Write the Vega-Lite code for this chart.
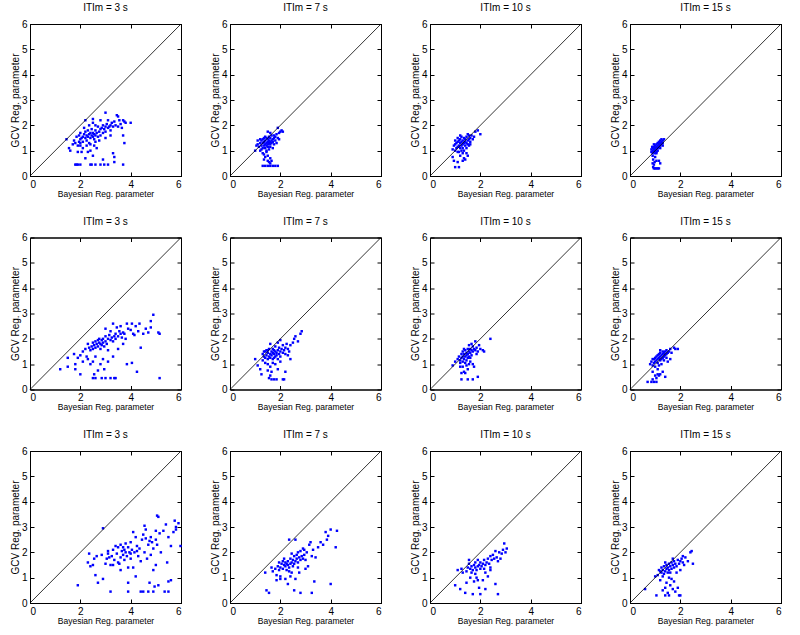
{
"$schema": "https://vega.github.io/schema/vega-lite/v6.json",
"padding": {"left": 9, "top": 2, "right": 5, "bottom": 5},
"data": {"values": [
{"panel":"1_3","x":1.45,"y":1.45},{"panel":"1_3","x":1.55,"y":1.1},{"panel":"1_3","x":1.6,"y":1.0},{"panel":"1_3","x":1.7,"y":1.25},{"panel":"1_3","x":1.75,"y":1.4},{"panel":"1_3","x":1.8,"y":1.3},{"panel":"1_3","x":1.85,"y":1.55},{"panel":"1_3","x":1.9,"y":1.2},{"panel":"1_3","x":1.95,"y":1.6},{"panel":"1_3","x":2.0,"y":1.45},{"panel":"1_3","x":2.0,"y":1.7},{"panel":"1_3","x":2.05,"y":1.5},{"panel":"1_3","x":2.1,"y":1.55},{"panel":"1_3","x":2.1,"y":1.35},{"panel":"1_3","x":2.15,"y":1.65},{"panel":"1_3","x":2.15,"y":1.9},{"panel":"1_3","x":2.2,"y":1.5},{"panel":"1_3","x":2.2,"y":1.75},{"panel":"1_3","x":2.25,"y":1.6},{"panel":"1_3","x":2.25,"y":1.4},{"panel":"1_3","x":2.3,"y":1.55},{"panel":"1_3","x":2.3,"y":1.8},{"panel":"1_3","x":2.35,"y":1.65},{"panel":"1_3","x":2.35,"y":2.0},{"panel":"1_3","x":2.4,"y":1.5},{"panel":"1_3","x":2.4,"y":1.7},{"panel":"1_3","x":2.4,"y":1.25},{"panel":"1_3","x":2.45,"y":1.6},{"panel":"1_3","x":2.45,"y":1.85},{"panel":"1_3","x":2.5,"y":1.55},{"panel":"1_3","x":2.5,"y":1.7},{"panel":"1_3","x":2.5,"y":2.1},{"panel":"1_3","x":2.55,"y":1.45},{"panel":"1_3","x":2.55,"y":1.65},{"panel":"1_3","x":2.6,"y":1.6},{"panel":"1_3","x":2.6,"y":1.8},{"panel":"1_3","x":2.6,"y":1.35},{"panel":"1_3","x":2.65,"y":1.7},{"panel":"1_3","x":2.7,"y":1.55},{"panel":"1_3","x":2.7,"y":1.95},{"panel":"1_3","x":2.75,"y":1.75},{"panel":"1_3","x":2.8,"y":1.6},{"panel":"1_3","x":2.8,"y":1.85},{"panel":"1_3","x":2.8,"y":2.2},{"panel":"1_3","x":2.85,"y":1.9},{"panel":"1_3","x":2.9,"y":1.7},{"panel":"1_3","x":2.9,"y":2.0},{"panel":"1_3","x":2.95,"y":1.85},{"panel":"1_3","x":3.0,"y":1.95},{"panel":"1_3","x":3.0,"y":2.5},{"panel":"1_3","x":3.0,"y":1.75},{"panel":"1_3","x":3.05,"y":2.05},{"panel":"1_3","x":3.1,"y":1.9},{"panel":"1_3","x":3.1,"y":2.2},{"panel":"1_3","x":3.15,"y":1.95},{"panel":"1_3","x":3.2,"y":2.0},{"panel":"1_3","x":3.2,"y":1.8},{"panel":"1_3","x":3.25,"y":2.1},{"panel":"1_3","x":3.3,"y":1.95},{"panel":"1_3","x":3.35,"y":2.15},{"panel":"1_3","x":3.4,"y":2.0},{"panel":"1_3","x":3.45,"y":2.4},{"panel":"1_3","x":3.5,"y":2.35},{"panel":"1_3","x":3.5,"y":1.95},{"panel":"1_3","x":3.55,"y":2.2},{"panel":"1_3","x":3.6,"y":2.05},{"panel":"1_3","x":3.65,"y":1.9},{"panel":"1_3","x":3.7,"y":2.2},{"panel":"1_3","x":3.75,"y":2.15},{"panel":"1_3","x":3.8,"y":2.1},{"panel":"1_3","x":3.75,"y":1.3},{"panel":"1_3","x":3.7,"y":1.6},{"panel":"1_3","x":4.0,"y":2.1},{"panel":"1_3","x":2.2,"y":2.2},{"panel":"1_3","x":2.5,"y":2.25},{"panel":"1_3","x":2.35,"y":1.3},{"panel":"1_3","x":2.6,"y":2.0},{"panel":"1_3","x":2.65,"y":1.1},{"panel":"1_3","x":2.0,"y":1.2},{"panel":"1_3","x":1.9,"y":0.95},{"panel":"1_3","x":2.05,"y":0.95},{"panel":"1_3","x":2.3,"y":0.95},{"panel":"1_3","x":2.2,"y":0.7},{"panel":"1_3","x":2.5,"y":0.8},{"panel":"1_3","x":2.4,"y":1.0},{"panel":"1_3","x":2.1,"y":1.1},{"panel":"1_3","x":3.3,"y":0.9},{"panel":"1_3","x":3.35,"y":0.75},{"panel":"1_3","x":3.35,"y":0.55},{"panel":"1_3","x":2.9,"y":0.65},{"panel":"1_3","x":1.8,"y":0.45},{"panel":"1_3","x":1.85,"y":0.45},{"panel":"1_3","x":1.9,"y":0.45},{"panel":"1_3","x":2.0,"y":0.45},{"panel":"1_3","x":2.4,"y":0.45},{"panel":"1_3","x":2.45,"y":0.45},{"panel":"1_3","x":2.6,"y":0.45},{"panel":"1_3","x":2.8,"y":0.45},{"panel":"1_3","x":2.95,"y":0.45},{"panel":"1_3","x":3.1,"y":0.45},{"panel":"1_3","x":3.7,"y":0.45},{"panel":"1_3","x":2.55,"y":1.2},{"panel":"1_3","x":2.75,"y":1.4},{"panel":"1_3","x":3.0,"y":1.5},{"panel":"1_3","x":3.2,"y":1.6},{"panel":"1_3","x":2.0,"y":1.3},{"panel":"1_3","x":1.95,"y":1.35},{"panel":"1_3","x":2.25,"y":1.2},
{"panel":"1_7","x":1.0,"y":1.0},{"panel":"1_7","x":1.05,"y":1.2},{"panel":"1_7","x":1.1,"y":1.25},{"panel":"1_7","x":1.15,"y":1.15},{"panel":"1_7","x":1.2,"y":1.3},{"panel":"1_7","x":1.2,"y":1.0},{"panel":"1_7","x":1.25,"y":1.2},{"panel":"1_7","x":1.25,"y":1.4},{"panel":"1_7","x":1.3,"y":1.3},{"panel":"1_7","x":1.3,"y":1.1},{"panel":"1_7","x":1.3,"y":1.45},{"panel":"1_7","x":1.35,"y":1.2},{"panel":"1_7","x":1.35,"y":1.35},{"panel":"1_7","x":1.4,"y":1.25},{"panel":"1_7","x":1.4,"y":1.4},{"panel":"1_7","x":1.4,"y":1.1},{"panel":"1_7","x":1.45,"y":1.3},{"panel":"1_7","x":1.45,"y":1.5},{"panel":"1_7","x":1.45,"y":1.2},{"panel":"1_7","x":1.5,"y":1.35},{"panel":"1_7","x":1.5,"y":1.25},{"panel":"1_7","x":1.5,"y":1.45},{"panel":"1_7","x":1.5,"y":1.15},{"panel":"1_7","x":1.55,"y":1.3},{"panel":"1_7","x":1.55,"y":1.4},{"panel":"1_7","x":1.55,"y":1.55},{"panel":"1_7","x":1.6,"y":1.35},{"panel":"1_7","x":1.6,"y":1.25},{"panel":"1_7","x":1.6,"y":1.5},{"panel":"1_7","x":1.65,"y":1.4},{"panel":"1_7","x":1.65,"y":1.3},{"panel":"1_7","x":1.65,"y":1.6},{"panel":"1_7","x":1.7,"y":1.45},{"panel":"1_7","x":1.7,"y":1.35},{"panel":"1_7","x":1.75,"y":1.5},{"panel":"1_7","x":1.75,"y":1.25},{"panel":"1_7","x":1.8,"y":1.55},{"panel":"1_7","x":1.8,"y":1.4},{"panel":"1_7","x":1.85,"y":1.65},{"panel":"1_7","x":1.9,"y":1.5},{"panel":"1_7","x":1.9,"y":1.9},{"panel":"1_7","x":1.95,"y":1.7},{"panel":"1_7","x":2.0,"y":1.75},{"panel":"1_7","x":2.05,"y":1.8},{"panel":"1_7","x":2.1,"y":1.75},{"panel":"1_7","x":1.6,"y":1.7},{"panel":"1_7","x":1.5,"y":1.75},{"panel":"1_7","x":1.35,"y":1.5},{"panel":"1_7","x":1.25,"y":1.05},{"panel":"1_7","x":1.3,"y":0.9},{"panel":"1_7","x":1.35,"y":0.85},{"panel":"1_7","x":1.4,"y":0.75},{"panel":"1_7","x":1.35,"y":0.65},{"panel":"1_7","x":1.45,"y":0.95},{"panel":"1_7","x":1.5,"y":0.8},{"panel":"1_7","x":1.5,"y":0.6},{"panel":"1_7","x":1.55,"y":0.55},{"panel":"1_7","x":1.6,"y":0.5},{"panel":"1_7","x":1.6,"y":0.7},{"panel":"1_7","x":1.65,"y":0.6},{"panel":"1_7","x":1.3,"y":0.4},{"panel":"1_7","x":1.4,"y":0.4},{"panel":"1_7","x":1.5,"y":0.4},{"panel":"1_7","x":1.6,"y":0.4},{"panel":"1_7","x":1.7,"y":0.4},{"panel":"1_7","x":1.8,"y":0.4},{"panel":"1_7","x":1.9,"y":0.4},{"panel":"1_7","x":1.55,"y":1.05},{"panel":"1_7","x":1.45,"y":1.0},{"panel":"1_7","x":1.7,"y":1.1},{"panel":"1_7","x":1.1,"y":1.4},{"panel":"1_7","x":1.2,"y":1.45},{"panel":"1_7","x":1.6,"y":1.15},{"panel":"1_7","x":1.4,"y":1.55},{"panel":"1_7","x":1.75,"y":1.6},{"panel":"1_7","x":1.85,"y":1.3},{"panel":"1_7","x":1.95,"y":1.45},
{"panel":"1_10","x":0.9,"y":0.75},{"panel":"1_10","x":0.95,"y":0.6},{"panel":"1_10","x":0.9,"y":1.05},{"panel":"1_10","x":0.95,"y":1.2},{"panel":"1_10","x":1.0,"y":1.0},{"panel":"1_10","x":1.0,"y":1.25},{"panel":"1_10","x":1.05,"y":1.1},{"panel":"1_10","x":1.05,"y":1.3},{"panel":"1_10","x":1.1,"y":1.15},{"panel":"1_10","x":1.1,"y":1.35},{"panel":"1_10","x":1.1,"y":0.95},{"panel":"1_10","x":1.15,"y":1.2},{"panel":"1_10","x":1.15,"y":1.4},{"panel":"1_10","x":1.2,"y":1.1},{"panel":"1_10","x":1.2,"y":1.3},{"panel":"1_10","x":1.2,"y":1.45},{"panel":"1_10","x":1.25,"y":1.2},{"panel":"1_10","x":1.25,"y":1.35},{"panel":"1_10","x":1.25,"y":1.0},{"panel":"1_10","x":1.3,"y":1.25},{"panel":"1_10","x":1.3,"y":1.4},{"panel":"1_10","x":1.3,"y":1.1},{"panel":"1_10","x":1.35,"y":1.3},{"panel":"1_10","x":1.35,"y":1.5},{"panel":"1_10","x":1.4,"y":1.2},{"panel":"1_10","x":1.4,"y":1.35},{"panel":"1_10","x":1.4,"y":1.45},{"panel":"1_10","x":1.45,"y":1.3},{"panel":"1_10","x":1.45,"y":1.55},{"panel":"1_10","x":1.5,"y":1.4},{"panel":"1_10","x":1.5,"y":1.25},{"panel":"1_10","x":1.55,"y":1.45},{"panel":"1_10","x":1.55,"y":1.6},{"panel":"1_10","x":1.6,"y":1.35},{"panel":"1_10","x":1.6,"y":1.5},{"panel":"1_10","x":1.65,"y":1.6},{"panel":"1_10","x":1.7,"y":1.45},{"panel":"1_10","x":1.75,"y":1.55},{"panel":"1_10","x":1.8,"y":1.75},{"panel":"1_10","x":1.9,"y":1.8},{"panel":"1_10","x":2.0,"y":1.65},{"panel":"1_10","x":1.0,"y":0.35},{"panel":"1_10","x":1.15,"y":0.35},{"panel":"1_10","x":1.1,"y":0.55},{"panel":"1_10","x":1.2,"y":0.8},{"panel":"1_10","x":1.3,"y":0.6},{"panel":"1_10","x":1.35,"y":0.7},{"panel":"1_10","x":1.4,"y":0.65},{"panel":"1_10","x":1.45,"y":0.9},{"panel":"1_10","x":1.5,"y":0.8},{"panel":"1_10","x":1.3,"y":0.9},{"panel":"1_10","x":1.15,"y":0.95},{"panel":"1_10","x":1.35,"y":1.0},{"panel":"1_10","x":1.25,"y":1.55},{"panel":"1_10","x":1.45,"y":1.1},{"panel":"1_10","x":1.55,"y":1.2},{"panel":"1_10","x":1.1,"y":1.5},{"panel":"1_10","x":1.0,"y":1.4},{"panel":"1_10","x":1.2,"y":1.6},{"panel":"1_10","x":1.5,"y":1.65},{"panel":"1_10","x":1.6,"y":1.25},
{"panel":"1_15","x":0.85,"y":0.95},{"panel":"1_15","x":0.85,"y":1.05},{"panel":"1_15","x":0.9,"y":0.9},{"panel":"1_15","x":0.9,"y":1.0},{"panel":"1_15","x":0.9,"y":1.1},{"panel":"1_15","x":0.95,"y":0.95},{"panel":"1_15","x":0.95,"y":1.05},{"panel":"1_15","x":0.95,"y":1.15},{"panel":"1_15","x":1.0,"y":1.0},{"panel":"1_15","x":1.0,"y":1.1},{"panel":"1_15","x":1.0,"y":1.2},{"panel":"1_15","x":1.0,"y":0.9},{"panel":"1_15","x":1.05,"y":1.05},{"panel":"1_15","x":1.05,"y":1.15},{"panel":"1_15","x":1.05,"y":1.25},{"panel":"1_15","x":1.1,"y":1.1},{"panel":"1_15","x":1.1,"y":1.2},{"panel":"1_15","x":1.1,"y":1.0},{"panel":"1_15","x":1.1,"y":1.3},{"panel":"1_15","x":1.15,"y":1.15},{"panel":"1_15","x":1.15,"y":1.25},{"panel":"1_15","x":1.15,"y":1.35},{"panel":"1_15","x":1.2,"y":1.2},{"panel":"1_15","x":1.2,"y":1.3},{"panel":"1_15","x":1.2,"y":1.1},{"panel":"1_15","x":1.25,"y":1.25},{"panel":"1_15","x":1.25,"y":1.35},{"panel":"1_15","x":1.25,"y":1.45},{"panel":"1_15","x":1.3,"y":1.3},{"panel":"1_15","x":1.3,"y":1.4},{"panel":"1_15","x":1.35,"y":1.45},{"panel":"1_15","x":1.3,"y":1.2},{"panel":"1_15","x":0.9,"y":0.8},{"panel":"1_15","x":0.92,"y":0.65},{"panel":"1_15","x":0.9,"y":0.5},{"panel":"1_15","x":0.95,"y":0.45},{"panel":"1_15","x":0.92,"y":0.35},{"panel":"1_15","x":0.95,"y":0.3},{"panel":"1_15","x":1.0,"y":0.3},{"panel":"1_15","x":1.05,"y":0.3},{"panel":"1_15","x":1.1,"y":0.3},{"panel":"1_15","x":1.15,"y":0.3},{"panel":"1_15","x":1.2,"y":0.5},{"panel":"1_15","x":1.15,"y":0.6},{"panel":"1_15","x":1.05,"y":0.6},{"panel":"1_15","x":1.0,"y":0.75},{"panel":"1_15","x":0.98,"y":0.55},{"panel":"1_15","x":1.05,"y":0.9},{"panel":"1_15","x":0.95,"y":1.25},{"panel":"1_15","x":1.05,"y":0.95},{"panel":"1_15","x":1.2,"y":1.4},{"panel":"1_15","x":0.88,"y":1.15},
{"panel":"2_3","x":1.2,"y":0.8},{"panel":"2_3","x":1.5,"y":1.25},{"panel":"2_3","x":1.5,"y":0.9},{"panel":"2_3","x":1.75,"y":1.4},{"panel":"2_3","x":1.8,"y":1.0},{"panel":"2_3","x":1.8,"y":0.8},{"panel":"2_3","x":2.0,"y":0.6},{"panel":"2_3","x":1.9,"y":1.25},{"panel":"2_3","x":2.1,"y":1.5},{"panel":"2_3","x":2.1,"y":1.1},{"panel":"2_3","x":2.2,"y":1.6},{"panel":"2_3","x":2.25,"y":1.3},{"panel":"2_3","x":2.3,"y":1.8},{"panel":"2_3","x":2.35,"y":1.65},{"panel":"2_3","x":2.4,"y":1.55},{"panel":"2_3","x":2.45,"y":1.7},{"panel":"2_3","x":2.5,"y":1.85},{"panel":"2_3","x":2.5,"y":1.6},{"panel":"2_3","x":2.55,"y":1.75},{"panel":"2_3","x":2.6,"y":1.9},{"panel":"2_3","x":2.6,"y":1.65},{"panel":"2_3","x":2.65,"y":1.8},{"panel":"2_3","x":2.7,"y":1.95},{"panel":"2_3","x":2.7,"y":1.7},{"panel":"2_3","x":2.75,"y":1.85},{"panel":"2_3","x":2.75,"y":2.0},{"panel":"2_3","x":2.8,"y":1.8},{"panel":"2_3","x":2.8,"y":1.6},{"panel":"2_3","x":2.85,"y":1.95},{"panel":"2_3","x":2.85,"y":1.75},{"panel":"2_3","x":2.9,"y":2.0},{"panel":"2_3","x":2.9,"y":1.85},{"panel":"2_3","x":2.95,"y":1.7},{"panel":"2_3","x":3.0,"y":1.9},{"panel":"2_3","x":3.0,"y":2.1},{"panel":"2_3","x":3.05,"y":1.8},{"panel":"2_3","x":3.1,"y":2.0},{"panel":"2_3","x":3.1,"y":1.55},{"panel":"2_3","x":3.15,"y":2.15},{"panel":"2_3","x":3.2,"y":1.95},{"panel":"2_3","x":3.2,"y":2.3},{"panel":"2_3","x":3.25,"y":2.05},{"panel":"2_3","x":3.3,"y":1.9},{"panel":"2_3","x":3.35,"y":2.1},{"panel":"2_3","x":3.4,"y":2.2},{"panel":"2_3","x":3.4,"y":2.0},{"panel":"2_3","x":3.45,"y":2.45},{"panel":"2_3","x":3.5,"y":2.1},{"panel":"2_3","x":3.55,"y":2.3},{"panel":"2_3","x":3.6,"y":2.2},{"panel":"2_3","x":3.65,"y":2.05},{"panel":"2_3","x":3.7,"y":2.25},{"panel":"2_3","x":3.75,"y":2.2},{"panel":"2_3","x":3.8,"y":2.0},{"panel":"2_3","x":3.85,"y":2.6},{"panel":"2_3","x":3.9,"y":2.4},{"panel":"2_3","x":4.0,"y":2.35},{"panel":"2_3","x":4.05,"y":2.6},{"panel":"2_3","x":4.15,"y":2.15},{"panel":"2_3","x":4.2,"y":2.5},{"panel":"2_3","x":4.3,"y":2.3},{"panel":"2_3","x":4.35,"y":2.6},{"panel":"2_3","x":4.4,"y":1.65},{"panel":"2_3","x":4.5,"y":2.2},{"panel":"2_3","x":4.6,"y":2.4},{"panel":"2_3","x":4.7,"y":2.25},{"panel":"2_3","x":4.8,"y":2.7},{"panel":"2_3","x":4.8,"y":2.45},{"panel":"2_3","x":4.9,"y":2.95},{"panel":"2_3","x":5.1,"y":2.25},{"panel":"2_3","x":5.15,"y":2.2},{"panel":"2_3","x":5.15,"y":0.45},{"panel":"2_3","x":4.25,"y":0.7},{"panel":"2_3","x":4.05,"y":1.05},{"panel":"2_3","x":3.85,"y":1.0},{"panel":"2_3","x":2.5,"y":0.45},{"panel":"2_3","x":2.6,"y":0.45},{"panel":"2_3","x":2.85,"y":0.45},{"panel":"2_3","x":3.0,"y":0.45},{"panel":"2_3","x":3.2,"y":0.45},{"panel":"2_3","x":3.4,"y":0.45},{"panel":"2_3","x":3.35,"y":0.45},{"panel":"2_3","x":2.55,"y":0.6},{"panel":"2_3","x":2.7,"y":0.75},{"panel":"2_3","x":2.8,"y":1.0},{"panel":"2_3","x":2.9,"y":1.2},{"panel":"2_3","x":2.6,"y":1.3},{"panel":"2_3","x":2.5,"y":1.1},{"panel":"2_3","x":3.1,"y":1.1},{"panel":"2_3","x":2.4,"y":1.0},{"panel":"2_3","x":2.95,"y":0.8},{"panel":"2_3","x":3.3,"y":1.3},{"panel":"2_3","x":3.5,"y":1.6},{"panel":"2_3","x":3.7,"y":1.8},{"panel":"2_3","x":2.3,"y":1.2},{"panel":"2_3","x":2.0,"y":1.35},{"panel":"2_3","x":3.6,"y":2.5},{"panel":"2_3","x":3.0,"y":2.4},{"panel":"2_3","x":3.3,"y":2.6},{"panel":"2_3","x":4.1,"y":2.2},
{"panel":"2_7","x":1.0,"y":1.2},{"panel":"2_7","x":1.1,"y":0.95},{"panel":"2_7","x":1.2,"y":0.8},{"panel":"2_7","x":1.25,"y":0.6},{"panel":"2_7","x":1.3,"y":1.4},{"panel":"2_7","x":1.3,"y":1.15},{"panel":"2_7","x":1.35,"y":1.3},{"panel":"2_7","x":1.4,"y":1.5},{"panel":"2_7","x":1.4,"y":1.25},{"panel":"2_7","x":1.45,"y":1.35},{"panel":"2_7","x":1.45,"y":1.55},{"panel":"2_7","x":1.5,"y":1.2},{"panel":"2_7","x":1.5,"y":1.45},{"panel":"2_7","x":1.5,"y":1.0},{"panel":"2_7","x":1.55,"y":1.3},{"panel":"2_7","x":1.55,"y":1.6},{"panel":"2_7","x":1.6,"y":1.4},{"panel":"2_7","x":1.6,"y":1.25},{"panel":"2_7","x":1.6,"y":0.9},{"panel":"2_7","x":1.65,"y":1.5},{"panel":"2_7","x":1.65,"y":1.35},{"panel":"2_7","x":1.7,"y":1.45},{"panel":"2_7","x":1.7,"y":1.2},{"panel":"2_7","x":1.7,"y":1.6},{"panel":"2_7","x":1.75,"y":1.4},{"panel":"2_7","x":1.75,"y":1.55},{"panel":"2_7","x":1.8,"y":1.3},{"panel":"2_7","x":1.8,"y":1.5},{"panel":"2_7","x":1.8,"y":1.7},{"panel":"2_7","x":1.85,"y":1.45},{"panel":"2_7","x":1.85,"y":1.35},{"panel":"2_7","x":1.9,"y":1.55},{"panel":"2_7","x":1.9,"y":1.2},{"panel":"2_7","x":1.95,"y":1.4},{"panel":"2_7","x":1.95,"y":1.65},{"panel":"2_7","x":2.0,"y":1.5},{"panel":"2_7","x":2.0,"y":1.3},{"panel":"2_7","x":2.05,"y":1.6},{"panel":"2_7","x":2.1,"y":1.45},{"panel":"2_7","x":2.1,"y":1.75},{"panel":"2_7","x":2.15,"y":1.55},{"panel":"2_7","x":2.2,"y":1.65},{"panel":"2_7","x":2.2,"y":1.4},{"panel":"2_7","x":2.25,"y":1.8},{"panel":"2_7","x":2.3,"y":1.6},{"panel":"2_7","x":2.35,"y":1.5},{"panel":"2_7","x":2.4,"y":1.75},{"panel":"2_7","x":2.5,"y":1.85},{"panel":"2_7","x":2.55,"y":2.0},{"panel":"2_7","x":2.6,"y":2.1},{"panel":"2_7","x":2.7,"y":1.9},{"panel":"2_7","x":2.8,"y":2.2},{"panel":"2_7","x":2.85,"y":2.3},{"panel":"2_7","x":2.4,"y":1.2},{"panel":"2_7","x":1.5,"y":0.75},{"panel":"2_7","x":1.6,"y":0.55},{"panel":"2_7","x":1.55,"y":0.45},{"panel":"2_7","x":1.75,"y":0.4},{"panel":"2_7","x":1.85,"y":0.4},{"panel":"2_7","x":1.65,"y":0.4},{"panel":"2_7","x":2.1,"y":0.4},{"panel":"2_7","x":2.15,"y":0.4},{"panel":"2_7","x":2.2,"y":0.7},{"panel":"2_7","x":1.9,"y":0.8},{"panel":"2_7","x":1.8,"y":1.0},{"panel":"2_7","x":1.7,"y":1.05},{"panel":"2_7","x":2.0,"y":1.1},{"panel":"2_7","x":1.4,"y":1.05},{"panel":"2_7","x":1.65,"y":0.7},{"panel":"2_7","x":1.35,"y":1.5},{"panel":"2_7","x":1.6,"y":1.8},{"panel":"2_7","x":1.9,"y":1.85},{"panel":"2_7","x":2.0,"y":1.95},{"panel":"2_7","x":1.5,"y":1.55},{"panel":"2_7","x":1.75,"y":1.25},{"panel":"2_7","x":2.3,"y":1.35},
{"panel":"2_10","x":0.9,"y":0.95},{"panel":"2_10","x":1.1,"y":1.2},{"panel":"2_10","x":1.15,"y":1.3},{"panel":"2_10","x":1.2,"y":1.15},{"panel":"2_10","x":1.2,"y":0.9},{"panel":"2_10","x":1.25,"y":1.25},{"panel":"2_10","x":1.25,"y":1.4},{"panel":"2_10","x":1.3,"y":1.1},{"panel":"2_10","x":1.3,"y":1.3},{"panel":"2_10","x":1.3,"y":1.5},{"panel":"2_10","x":1.35,"y":1.2},{"panel":"2_10","x":1.35,"y":1.4},{"panel":"2_10","x":1.4,"y":1.3},{"panel":"2_10","x":1.4,"y":1.55},{"panel":"2_10","x":1.4,"y":1.05},{"panel":"2_10","x":1.45,"y":1.35},{"panel":"2_10","x":1.45,"y":1.45},{"panel":"2_10","x":1.5,"y":1.25},{"panel":"2_10","x":1.5,"y":1.4},{"panel":"2_10","x":1.5,"y":1.6},{"panel":"2_10","x":1.55,"y":1.5},{"panel":"2_10","x":1.55,"y":1.3},{"panel":"2_10","x":1.6,"y":1.45},{"panel":"2_10","x":1.6,"y":1.6},{"panel":"2_10","x":1.65,"y":1.55},{"panel":"2_10","x":1.65,"y":1.35},{"panel":"2_10","x":1.7,"y":1.5},{"panel":"2_10","x":1.7,"y":1.7},{"panel":"2_10","x":1.75,"y":1.6},{"panel":"2_10","x":1.8,"y":1.55},{"panel":"2_10","x":1.8,"y":1.9},{"panel":"2_10","x":1.85,"y":1.65},{"panel":"2_10","x":1.9,"y":1.5},{"panel":"2_10","x":1.95,"y":1.75},{"panel":"2_10","x":2.0,"y":1.6},{"panel":"2_10","x":2.1,"y":1.55},{"panel":"2_10","x":2.15,"y":1.5},{"panel":"2_10","x":2.4,"y":2.0},{"panel":"2_10","x":1.25,"y":0.65},{"panel":"2_10","x":1.3,"y":0.9},{"panel":"2_10","x":1.35,"y":0.7},{"panel":"2_10","x":1.4,"y":0.65},{"panel":"2_10","x":1.45,"y":0.95},{"panel":"2_10","x":1.5,"y":0.8},{"panel":"2_10","x":1.55,"y":1.0},{"panel":"2_10","x":1.6,"y":1.1},{"panel":"2_10","x":1.7,"y":1.0},{"panel":"2_10","x":1.75,"y":0.9},{"panel":"2_10","x":1.9,"y":0.5},{"panel":"2_10","x":1.25,"y":0.4},{"panel":"2_10","x":1.5,"y":0.4},{"panel":"2_10","x":1.7,"y":0.4},{"panel":"2_10","x":1.35,"y":1.6},{"panel":"2_10","x":1.2,"y":1.05},{"panel":"2_10","x":1.45,"y":1.15},{"panel":"2_10","x":1.6,"y":1.25},{"panel":"2_10","x":1.85,"y":1.4},{"panel":"2_10","x":1.0,"y":1.1},{"panel":"2_10","x":1.55,"y":1.75},{"panel":"2_10","x":1.65,"y":1.8},
{"panel":"2_15","x":0.8,"y":1.0},{"panel":"2_15","x":0.85,"y":1.1},{"panel":"2_15","x":0.9,"y":0.95},{"panel":"2_15","x":0.95,"y":1.05},{"panel":"2_15","x":0.95,"y":1.2},{"panel":"2_15","x":1.0,"y":1.1},{"panel":"2_15","x":1.0,"y":1.25},{"panel":"2_15","x":1.0,"y":0.9},{"panel":"2_15","x":1.05,"y":1.15},{"panel":"2_15","x":1.05,"y":1.3},{"panel":"2_15","x":1.1,"y":1.2},{"panel":"2_15","x":1.1,"y":1.35},{"panel":"2_15","x":1.1,"y":1.05},{"panel":"2_15","x":1.15,"y":1.25},{"panel":"2_15","x":1.15,"y":1.4},{"panel":"2_15","x":1.2,"y":1.15},{"panel":"2_15","x":1.2,"y":1.3},{"panel":"2_15","x":1.2,"y":1.45},{"panel":"2_15","x":1.25,"y":1.2},{"panel":"2_15","x":1.25,"y":1.35},{"panel":"2_15","x":1.3,"y":1.25},{"panel":"2_15","x":1.3,"y":1.4},{"panel":"2_15","x":1.3,"y":1.5},{"panel":"2_15","x":1.35,"y":1.3},{"panel":"2_15","x":1.35,"y":1.45},{"panel":"2_15","x":1.4,"y":1.35},{"panel":"2_15","x":1.4,"y":1.5},{"panel":"2_15","x":1.45,"y":1.4},{"panel":"2_15","x":1.45,"y":1.55},{"panel":"2_15","x":1.5,"y":1.45},{"panel":"2_15","x":1.55,"y":1.5},{"panel":"2_15","x":1.6,"y":1.6},{"panel":"2_15","x":1.65,"y":1.45},{"panel":"2_15","x":1.75,"y":1.65},{"panel":"2_15","x":1.8,"y":1.6},{"panel":"2_15","x":1.9,"y":1.6},{"panel":"2_15","x":1.5,"y":1.1},{"panel":"2_15","x":1.6,"y":1.2},{"panel":"2_15","x":0.7,"y":0.3},{"panel":"2_15","x":0.85,"y":0.3},{"panel":"2_15","x":0.9,"y":0.4},{"panel":"2_15","x":0.95,"y":0.3},{"panel":"2_15","x":1.05,"y":0.3},{"panel":"2_15","x":1.0,"y":0.55},{"panel":"2_15","x":1.05,"y":0.45},{"panel":"2_15","x":1.1,"y":0.6},{"panel":"2_15","x":1.15,"y":0.55},{"panel":"2_15","x":1.2,"y":0.6},{"panel":"2_15","x":1.3,"y":0.7},{"panel":"2_15","x":1.4,"y":0.5},{"panel":"2_15","x":1.1,"y":0.8},{"panel":"2_15","x":0.9,"y":0.7},{"panel":"2_15","x":1.25,"y":1.0},{"panel":"2_15","x":1.35,"y":1.15},{"panel":"2_15","x":1.15,"y":0.95},{"panel":"2_15","x":1.45,"y":1.25},{"panel":"2_15","x":0.9,"y":1.2},{"panel":"2_15","x":1.2,"y":1.55},
{"panel":"3_3","x":1.9,"y":0.7},{"panel":"3_3","x":2.3,"y":1.6},{"panel":"3_3","x":2.35,"y":1.95},{"panel":"3_3","x":2.4,"y":1.45},{"panel":"3_3","x":2.5,"y":1.5},{"panel":"3_3","x":2.6,"y":1.1},{"panel":"3_3","x":2.65,"y":1.85},{"panel":"3_3","x":2.7,"y":0.8},{"panel":"3_3","x":2.85,"y":1.9},{"panel":"3_3","x":2.9,"y":0.95},{"panel":"3_3","x":2.9,"y":2.95},{"panel":"3_3","x":3.0,"y":1.55},{"panel":"3_3","x":3.05,"y":1.75},{"panel":"3_3","x":3.1,"y":2.05},{"panel":"3_3","x":3.15,"y":1.8},{"panel":"3_3","x":3.2,"y":0.45},{"panel":"3_3","x":3.2,"y":1.5},{"panel":"3_3","x":3.25,"y":1.85},{"panel":"3_3","x":3.3,"y":2.1},{"panel":"3_3","x":3.35,"y":1.7},{"panel":"3_3","x":3.4,"y":2.25},{"panel":"3_3","x":3.45,"y":1.95},{"panel":"3_3","x":3.5,"y":2.2},{"panel":"3_3","x":3.5,"y":1.6},{"panel":"3_3","x":3.55,"y":1.55},{"panel":"3_3","x":3.6,"y":2.3},{"panel":"3_3","x":3.6,"y":1.8},{"panel":"3_3","x":3.65,"y":2.05},{"panel":"3_3","x":3.7,"y":1.9},{"panel":"3_3","x":3.75,"y":2.1},{"panel":"3_3","x":3.75,"y":1.7},{"panel":"3_3","x":3.8,"y":2.35},{"panel":"3_3","x":3.8,"y":2.0},{"panel":"3_3","x":3.85,"y":1.85},{"panel":"3_3","x":3.9,"y":2.2},{"panel":"3_3","x":3.9,"y":0.8},{"panel":"3_3","x":3.9,"y":0.45},{"panel":"3_3","x":3.9,"y":1.4},{"panel":"3_3","x":3.95,"y":2.0},{"panel":"3_3","x":4.0,"y":1.75},{"panel":"3_3","x":4.0,"y":2.4},{"panel":"3_3","x":4.05,"y":2.1},{"panel":"3_3","x":4.1,"y":1.4},{"panel":"3_3","x":4.1,"y":2.8},{"panel":"3_3","x":4.15,"y":2.0},{"panel":"3_3","x":4.2,"y":2.6},{"panel":"3_3","x":4.2,"y":1.05},{"panel":"3_3","x":4.25,"y":2.25},{"panel":"3_3","x":4.3,"y":1.85},{"panel":"3_3","x":4.35,"y":2.15},{"panel":"3_3","x":4.4,"y":0.45},{"panel":"3_3","x":4.45,"y":2.5},{"panel":"3_3","x":4.5,"y":0.45},{"panel":"3_3","x":4.5,"y":2.7},{"panel":"3_3","x":4.55,"y":2.0},{"panel":"3_3","x":4.6,"y":2.55},{"panel":"3_3","x":4.6,"y":2.9},{"panel":"3_3","x":4.65,"y":1.75},{"panel":"3_3","x":4.7,"y":2.3},{"panel":"3_3","x":4.7,"y":0.45},{"panel":"3_3","x":4.75,"y":0.8},{"panel":"3_3","x":4.8,"y":2.6},{"panel":"3_3","x":4.8,"y":1.9},{"panel":"3_3","x":4.85,"y":2.4},{"panel":"3_3","x":4.9,"y":1.3},{"panel":"3_3","x":4.9,"y":0.45},{"panel":"3_3","x":4.95,"y":0.65},{"panel":"3_3","x":5.0,"y":2.85},{"panel":"3_3","x":5.0,"y":2.5},{"panel":"3_3","x":5.0,"y":1.5},{"panel":"3_3","x":5.05,"y":3.45},{"panel":"3_3","x":5.05,"y":2.3},{"panel":"3_3","x":5.1,"y":3.4},{"panel":"3_3","x":5.1,"y":0.7},{"panel":"3_3","x":5.15,"y":2.75},{"panel":"3_3","x":5.2,"y":2.0},{"panel":"3_3","x":5.3,"y":2.85},{"panel":"3_3","x":5.35,"y":0.45},{"panel":"3_3","x":5.4,"y":3.1},{"panel":"3_3","x":5.45,"y":1.6},{"panel":"3_3","x":5.5,"y":0.45},{"panel":"3_3","x":5.5,"y":2.6},{"panel":"3_3","x":5.6,"y":2.25},{"panel":"3_3","x":5.7,"y":2.8},{"panel":"3_3","x":5.75,"y":3.25},{"panel":"3_3","x":5.8,"y":3.0},{"panel":"3_3","x":5.9,"y":3.15},{"panel":"3_3","x":5.98,"y":2.25},{"panel":"3_3","x":3.3,"y":1.5},{"panel":"3_3","x":3.6,"y":1.3},{"panel":"3_3","x":4.4,"y":1.65},{"panel":"3_3","x":4.55,"y":3.05},{"panel":"3_3","x":4.9,"y":2.15},{"panel":"3_3","x":5.6,"y":0.9},{"panel":"3_3","x":5.8,"y":2.9},{"panel":"3_3","x":5.5,"y":0.85},{"panel":"3_3","x":3.1,"y":1.95},{"panel":"3_3","x":3.7,"y":2.2},{"panel":"3_3","x":4.0,"y":1.95},{"panel":"3_3","x":4.25,"y":2.05},{"panel":"3_3","x":4.75,"y":2.45},{"panel":"3_3","x":2.55,"y":1.75},
{"panel":"3_7","x":1.4,"y":1.2},{"panel":"3_7","x":1.45,"y":0.5},{"panel":"3_7","x":1.55,"y":0.4},{"panel":"3_7","x":1.65,"y":1.4},{"panel":"3_7","x":1.7,"y":1.25},{"panel":"3_7","x":1.8,"y":1.35},{"panel":"3_7","x":1.85,"y":1.1},{"panel":"3_7","x":1.85,"y":0.9},{"panel":"3_7","x":1.9,"y":1.45},{"panel":"3_7","x":1.95,"y":1.3},{"panel":"3_7","x":1.95,"y":1.6},{"panel":"3_7","x":2.0,"y":1.4},{"panel":"3_7","x":2.0,"y":0.95},{"panel":"3_7","x":2.05,"y":1.55},{"panel":"3_7","x":2.1,"y":1.35},{"panel":"3_7","x":2.1,"y":1.65},{"panel":"3_7","x":2.15,"y":1.5},{"panel":"3_7","x":2.2,"y":1.45},{"panel":"3_7","x":2.2,"y":1.6},{"panel":"3_7","x":2.25,"y":1.3},{"panel":"3_7","x":2.25,"y":1.55},{"panel":"3_7","x":2.3,"y":1.5},{"panel":"3_7","x":2.3,"y":1.65},{"panel":"3_7","x":2.35,"y":2.5},{"panel":"3_7","x":2.35,"y":1.4},{"panel":"3_7","x":2.4,"y":1.55},{"panel":"3_7","x":2.4,"y":1.75},{"panel":"3_7","x":2.45,"y":1.2},{"panel":"3_7","x":2.45,"y":1.6},{"panel":"3_7","x":2.5,"y":1.7},{"panel":"3_7","x":2.5,"y":1.45},{"panel":"3_7","x":2.55,"y":1.85},{"panel":"3_7","x":2.55,"y":1.55},{"panel":"3_7","x":2.6,"y":1.65},{"panel":"3_7","x":2.6,"y":2.5},{"panel":"3_7","x":2.65,"y":1.75},{"panel":"3_7","x":2.65,"y":1.9},{"panel":"3_7","x":2.7,"y":1.6},{"panel":"3_7","x":2.7,"y":2.0},{"panel":"3_7","x":2.75,"y":1.8},{"panel":"3_7","x":2.8,"y":1.7},{"panel":"3_7","x":2.8,"y":2.05},{"panel":"3_7","x":2.85,"y":1.85},{"panel":"3_7","x":2.9,"y":1.75},{"panel":"3_7","x":2.9,"y":2.15},{"panel":"3_7","x":2.95,"y":1.9},{"panel":"3_7","x":3.0,"y":1.7},{"panel":"3_7","x":3.05,"y":2.0},{"panel":"3_7","x":3.1,"y":1.45},{"panel":"3_7","x":3.15,"y":2.3},{"panel":"3_7","x":3.2,"y":2.4},{"panel":"3_7","x":3.25,"y":1.85},{"panel":"3_7","x":3.3,"y":2.1},{"panel":"3_7","x":3.35,"y":0.85},{"panel":"3_7","x":3.4,"y":1.8},{"panel":"3_7","x":3.5,"y":2.2},{"panel":"3_7","x":3.6,"y":2.4},{"panel":"3_7","x":3.7,"y":2.3},{"panel":"3_7","x":3.8,"y":2.8},{"panel":"3_7","x":3.85,"y":2.5},{"panel":"3_7","x":3.9,"y":2.65},{"panel":"3_7","x":4.0,"y":2.9},{"panel":"3_7","x":4.0,"y":0.75},{"panel":"3_7","x":4.25,"y":2.85},{"panel":"3_7","x":4.2,"y":2.2},{"panel":"3_7","x":2.0,"y":1.05},{"panel":"3_7","x":2.2,"y":0.95},{"panel":"3_7","x":2.3,"y":0.75},{"panel":"3_7","x":2.4,"y":1.05},{"panel":"3_7","x":2.6,"y":0.95},{"panel":"3_7","x":2.55,"y":0.5},{"panel":"3_7","x":2.8,"y":0.4},{"panel":"3_7","x":3.25,"y":0.4},{"panel":"3_7","x":2.75,"y":1.2},{"panel":"3_7","x":3.0,"y":1.35},{"panel":"3_7","x":2.7,"y":1.4},{"panel":"3_7","x":2.45,"y":1.95},{"panel":"3_7","x":2.95,"y":2.1},{"panel":"3_7","x":2.15,"y":1.75},{"panel":"3_7","x":2.35,"y":1.25},
{"panel":"3_10","x":1.0,"y":0.7},{"panel":"3_10","x":1.1,"y":1.3},{"panel":"3_10","x":1.2,"y":0.55},{"panel":"3_10","x":1.25,"y":1.35},{"panel":"3_10","x":1.3,"y":1.2},{"panel":"3_10","x":1.4,"y":0.4},{"panel":"3_10","x":1.45,"y":0.8},{"panel":"3_10","x":1.45,"y":1.25},{"panel":"3_10","x":1.5,"y":1.4},{"panel":"3_10","x":1.55,"y":1.55},{"panel":"3_10","x":1.6,"y":1.35},{"panel":"3_10","x":1.6,"y":1.0},{"panel":"3_10","x":1.65,"y":1.45},{"panel":"3_10","x":1.7,"y":1.3},{"panel":"3_10","x":1.7,"y":0.35},{"panel":"3_10","x":1.75,"y":1.5},{"panel":"3_10","x":1.75,"y":0.85},{"panel":"3_10","x":1.8,"y":1.4},{"panel":"3_10","x":1.8,"y":1.6},{"panel":"3_10","x":1.85,"y":1.3},{"panel":"3_10","x":1.85,"y":1.0},{"panel":"3_10","x":1.9,"y":1.45},{"panel":"3_10","x":1.9,"y":1.7},{"panel":"3_10","x":1.95,"y":1.5},{"panel":"3_10","x":1.95,"y":0.6},{"panel":"3_10","x":2.0,"y":1.35},{"panel":"3_10","x":2.0,"y":1.6},{"panel":"3_10","x":2.05,"y":1.45},{"panel":"3_10","x":2.1,"y":1.55},{"panel":"3_10","x":2.1,"y":0.9},{"panel":"3_10","x":2.15,"y":1.7},{"panel":"3_10","x":2.2,"y":1.5},{"panel":"3_10","x":2.2,"y":1.2},{"panel":"3_10","x":2.25,"y":1.6},{"panel":"3_10","x":2.3,"y":1.75},{"panel":"3_10","x":2.35,"y":1.55},{"panel":"3_10","x":2.4,"y":1.85},{"panel":"3_10","x":2.4,"y":1.4},{"panel":"3_10","x":2.45,"y":1.7},{"panel":"3_10","x":2.5,"y":1.9},{"panel":"3_10","x":2.55,"y":1.75},{"panel":"3_10","x":2.6,"y":2.05},{"panel":"3_10","x":2.6,"y":0.75},{"panel":"3_10","x":2.65,"y":1.8},{"panel":"3_10","x":2.7,"y":1.65},{"panel":"3_10","x":2.7,"y":0.35},{"panel":"3_10","x":2.75,"y":2.0},{"panel":"3_10","x":2.8,"y":1.75},{"panel":"3_10","x":2.85,"y":1.95},{"panel":"3_10","x":2.9,"y":2.1},{"panel":"3_10","x":2.95,"y":2.35},{"panel":"3_10","x":3.0,"y":2.0},{"panel":"3_10","x":3.05,"y":2.15},{"panel":"3_10","x":2.0,"y":0.35},{"panel":"3_10","x":2.2,"y":0.55},{"panel":"3_10","x":1.9,"y":0.9},{"panel":"3_10","x":2.3,"y":1.05},{"panel":"3_10","x":1.8,"y":1.15},{"panel":"3_10","x":2.4,"y":1.3},{"panel":"3_10","x":1.55,"y":1.7},{"panel":"3_10","x":2.15,"y":1.35},{"panel":"3_10","x":1.65,"y":1.2},
{"panel":"3_15","x":0.6,"y":0.55},{"panel":"3_15","x":1.0,"y":1.05},{"panel":"3_15","x":1.05,"y":0.3},{"panel":"3_15","x":1.1,"y":1.1},{"panel":"3_15","x":1.15,"y":1.3},{"panel":"3_15","x":1.2,"y":0.9},{"panel":"3_15","x":1.25,"y":1.2},{"panel":"3_15","x":1.25,"y":1.4},{"panel":"3_15","x":1.3,"y":1.05},{"panel":"3_15","x":1.3,"y":1.3},{"panel":"3_15","x":1.35,"y":1.15},{"panel":"3_15","x":1.35,"y":1.45},{"panel":"3_15","x":1.4,"y":1.25},{"panel":"3_15","x":1.4,"y":0.6},{"panel":"3_15","x":1.4,"y":0.3},{"panel":"3_15","x":1.45,"y":1.35},{"panel":"3_15","x":1.45,"y":1.5},{"panel":"3_15","x":1.5,"y":1.2},{"panel":"3_15","x":1.5,"y":1.4},{"panel":"3_15","x":1.5,"y":0.4},{"panel":"3_15","x":1.55,"y":1.3},{"panel":"3_15","x":1.55,"y":1.55},{"panel":"3_15","x":1.6,"y":1.45},{"panel":"3_15","x":1.6,"y":1.2},{"panel":"3_15","x":1.6,"y":0.7},{"panel":"3_15","x":1.65,"y":1.35},{"panel":"3_15","x":1.65,"y":1.6},{"panel":"3_15","x":1.7,"y":1.5},{"panel":"3_15","x":1.7,"y":0.55},{"panel":"3_15","x":1.75,"y":1.4},{"panel":"3_15","x":1.75,"y":1.65},{"panel":"3_15","x":1.8,"y":1.55},{"panel":"3_15","x":1.8,"y":0.45},{"panel":"3_15","x":1.85,"y":1.45},{"panel":"3_15","x":1.9,"y":1.7},{"panel":"3_15","x":1.9,"y":0.6},{"panel":"3_15","x":1.95,"y":1.55},{"panel":"3_15","x":2.0,"y":1.65},{"panel":"3_15","x":2.0,"y":1.3},{"panel":"3_15","x":2.05,"y":1.75},{"panel":"3_15","x":2.1,"y":1.6},{"panel":"3_15","x":2.15,"y":1.5},{"panel":"3_15","x":2.2,"y":1.8},{"panel":"3_15","x":2.3,"y":1.65},{"panel":"3_15","x":2.4,"y":2.0},{"panel":"3_15","x":2.45,"y":2.05},{"panel":"3_15","x":2.5,"y":1.55},{"panel":"3_15","x":1.55,"y":0.3},{"panel":"3_15","x":1.95,"y":0.3},{"panel":"3_15","x":2.0,"y":0.3},{"panel":"3_15","x":1.45,"y":0.8},{"panel":"3_15","x":1.65,"y":0.95},{"panel":"3_15","x":1.75,"y":0.85},{"panel":"3_15","x":1.55,"y":1.0},{"panel":"3_15","x":1.85,"y":1.2},{"panel":"3_15","x":1.2,"y":1.25},{"panel":"3_15","x":1.4,"y":1.6},{"panel":"3_15","x":1.7,"y":1.75},{"panel":"3_15","x":2.1,"y":1.85},{"panel":"3_15","x":1.3,"y":0.5}
]},
"columns": 4,
"facet": {
  "field": "panel", "type": "nominal",
  "sort": ["1_3","1_7","1_10","1_15","2_3","2_7","2_10","2_15","3_3","3_7","3_10","3_15"],
  "header": {"title": null, "labelExpr": "'ITIm = ' + split(datum.value, '_')[1] + ' s'", "labelFontSize": 10, "labelFont": "Liberation Sans", "labelColor": "black", "labelPadding": 6}
},
"spacing": {"column": 26, "row": 17.5},
"resolve": {"axis": {"x": "independent", "y": "independent"}},
"spec": {
  "width": 151, "height": 152,
  "layer": [
    {
      "mark": {"type": "point", "filled": true, "size": 6, "color": "#0000ff", "opacity": 1, "shape": "square"},
      "encoding": {
        "x": {"field": "x", "type": "quantitative", "scale": {"domain": [0, 6], "nice": false}, "axis": {"orient": "bottom", "values": [0, 2, 4, 6], "title": "Bayesian Reg. parameter", "grid": false, "tickSize": -4, "labelPadding": 7, "titlePadding": 0, "titleFontSize": 8.5}},
        "y": {"field": "y", "type": "quantitative", "scale": {"domain": [0, 6], "nice": false}, "axis": {"orient": "left", "values": [0, 1, 2, 3, 4, 5, 6], "title": "GCV Reg. parameter", "grid": false, "tickSize": -4, "labelPadding": 7, "titlePadding": 1, "titleFontSize": 10}}
      }
    },
    {
      "transform": [{"aggregate": [{"op": "count", "as": "n"}], "groupby": ["panel"]}],
      "mark": {"type": "rule", "color": "black", "strokeWidth": 0.8},
      "encoding": {
        "x": {"datum": 0, "type": "quantitative", "axis": {"orient": "top", "values": [0, 2, 4, 6], "labels": false, "title": null, "grid": false, "tickSize": -4}},
        "y": {"datum": 0, "type": "quantitative", "axis": {"orient": "right", "values": [0, 1, 2, 3, 4, 5, 6], "labels": false, "title": null, "grid": false, "tickSize": -4}},
        "x2": {"datum": 6},
        "y2": {"datum": 6}
      }
    }
  ],
  "resolve": {"axis": {"x": "independent", "y": "independent"}}
},
"config": {
  "font": "Liberation Sans",
  "view": {"stroke": "black", "strokeWidth": 1},
  "axis": {"domainColor": "black", "tickColor": "black", "labelColor": "black", "titleColor": "black", "labelFontSize": 10, "titleFontWeight": "normal", "domainWidth": 1, "tickWidth": 1}
}
}
